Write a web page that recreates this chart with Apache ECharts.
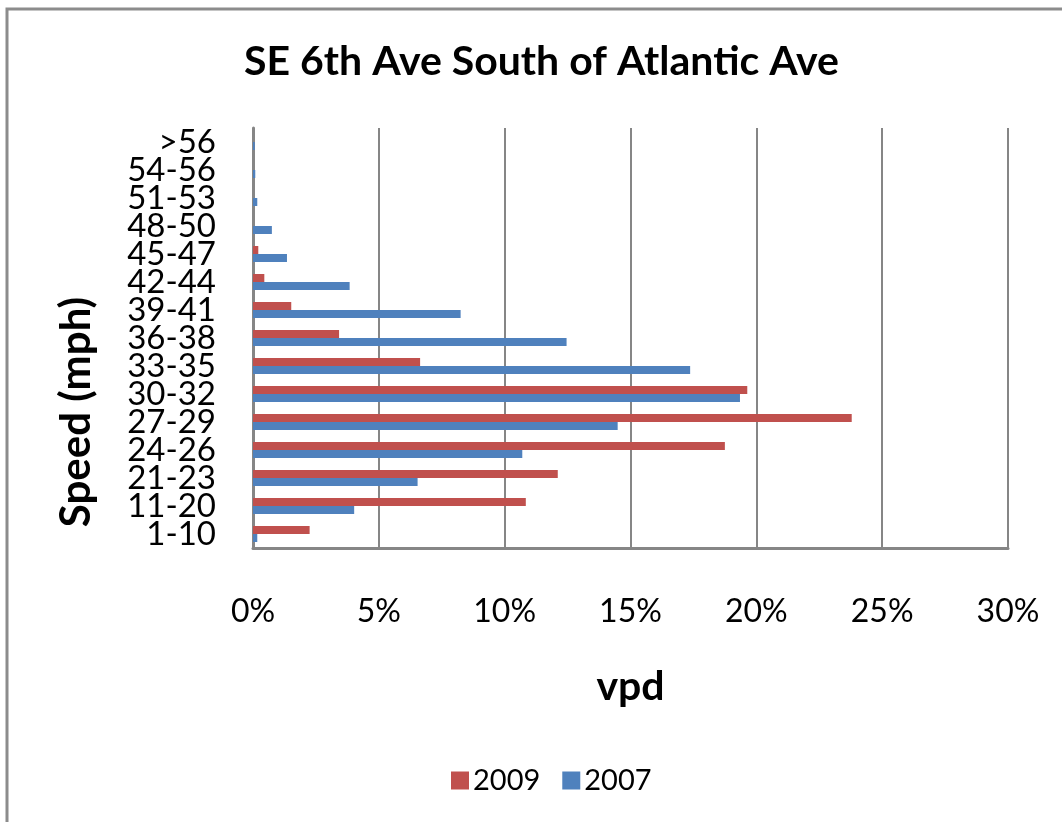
<!DOCTYPE html>
<html>
<head>
<meta charset="utf-8">
<script src="https://cdn.jsdelivr.net/npm/echarts@6/dist/echarts.min.js"></script>
<style>
  html, body { margin: 0; padding: 0; background: #ffffff; }
  #chart { width: 1062px; height: 822px; }
</style>
</head>
<body>
<div id="chart"></div>
<script>
// Speed bins, listed from the lowest (bottom) to the highest (top)
const speedBins = ['1-10', '11-20', '21-23', '24-26', '27-29', '30-32', '33-35',
  '36-38', '39-41', '42-44', '45-47', '48-50', '51-53', '54-56', '>56'];

// Share of daily vehicles (%) in each speed bin
const share2009 = [2.25, 10.84, 12.11, 18.75, 23.79, 19.64, 6.64, 3.42, 1.52, 0.45, 0.21, 0, 0, 0, 0];
const share2007 = [0.17, 4.02, 6.54, 10.70, 14.49, 19.35, 17.37, 12.46, 8.25, 3.84, 1.35, 0.75, 0.17, 0.09, 0.07];

const FONT = 'Lato, "Open Sans", sans-serif';
const GRID_LINE = '#868686';

const chart = echarts.init(document.getElementById('chart'), null, { renderer: 'canvas' });

chart.setOption({
  backgroundColor: '#ffffff',
  animation: false,
  title: {
    text: 'SE 6th Ave South of Atlantic Ave',
    left: 239,
    top: 36,
    textStyle: { fontFamily: FONT, fontWeight: 'bold', fontSize: 41, color: '#000000' }
  },
  legend: {
    left: 446,
    top: 761,
    itemWidth: 18,
    itemHeight: 18,
    itemGap: 22,
    icon: 'rect',
    data: ['2009', '2007'],
    textStyle: { fontFamily: FONT, fontSize: 29, color: '#000000', padding: [0, 0, 0, -1] }
  },
  grid: { left: 253, right: 54, top: 128, height: 420, containLabel: false },
  xAxis: {
    type: 'value',
    min: 0,
    max: 30,
    interval: 5,
    name: 'vpd',
    nameLocation: 'middle',
    nameGap: 118,
    nameTextStyle: { fontFamily: FONT, fontWeight: 'bold', fontSize: 41, color: '#000000' },
    axisLine: { show: true, lineStyle: { color: GRID_LINE, width: 3 } },
    axisTick: { show: false },
    axisLabel: {
      margin: 48,
      formatter: '{value}%',
      fontFamily: FONT, fontSize: 32, color: '#000000'
    },
    splitLine: { show: true, lineStyle: { color: GRID_LINE, width: 2 } }
  },
  yAxis: {
    type: 'category',
    data: speedBins,
    axisLine: { show: true, lineStyle: { color: GRID_LINE, width: 3 } },
    axisTick: { show: false },
    axisLabel: { interval: 0, margin: 37, fontFamily: FONT, fontSize: 33, lineHeight: 28, color: '#000000' },
    splitLine: { show: false }
  },
  series: [
    {
      name: '2009',
      type: 'bar',
      data: share2009,
      barWidth: 8,
      barGap: '0%',
      itemStyle: { color: '#C0504D' }
    },
    {
      name: '2007',
      type: 'bar',
      data: share2007,
      barWidth: 8,
      barGap: '0%',
      itemStyle: { color: '#4F81BD' }
    }
  ],
  graphic: [
    {
      // chart frame
      type: 'rect',
      shape: { x: 7, y: 9, width: 1100, height: 900 },
      style: { fill: null, stroke: '#8c8c8c', lineWidth: 3 },
      silent: true
    },
    {
      // vertical axis title
      type: 'text',
      x: 76,
      y: 412,
      rotation: Math.PI / 2,
      style: {
        text: 'Speed (mph)',
        fontFamily: FONT,
        fontWeight: 'bold',
        fontSize: 42,
        fill: '#000000',
        align: 'center',
        verticalAlign: 'middle'
      }
    }
  ]
});
</script>
</body>
</html>
